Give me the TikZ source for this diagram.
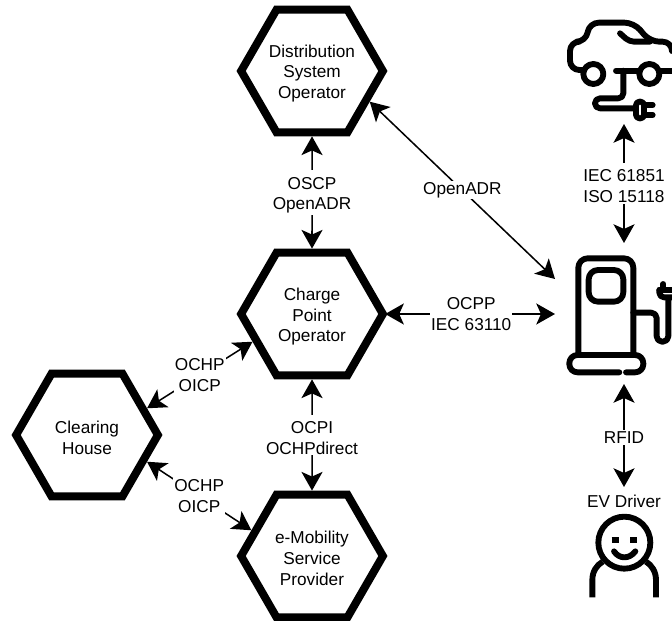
\documentclass[tikz,border=0pt]{standalone}
\usepackage{fontspec}
\setmainfont{Liberation Sans}
\usetikzlibrary{arrows.meta,shapes.geometric}

\newcommand{\topgap}{\rule{0pt}{15pt}}

\tikzset{
    actor/.style={regular polygon,regular polygon sides=6,draw,line width=6.8pt,
        minimum size=121pt,inner sep=0pt,align=center,font=\fontsize{14.7}{17.7}\selectfont},
    link/.style={{Stealth[length=16pt,width=18pt,inset=4pt]}-{Stealth[length=16pt,width=18pt,inset=4pt]},line width=1.3pt},
    proto/.style={fill=white,inner sep=1pt,align=center,font=\fontsize{14.7}{17.7}\selectfont},
    icon/.style={line width=5pt,line cap=round,line join=round}
}

\begin{document}
\begin{tikzpicture}[x=0.03cm,y=-0.03cm]
    \useasboundingbox (0,0) rectangle (672,621);

    % The hexagons
    \node[actor] (dso) at (312,71) {\topgap Distribution\\System\\Operator};
    \node[actor] (cpo) at (312,314) {\topgap Charge\\Point\\Operator};
    \node[actor] (ch) at (87,435) {\topgap Clearing\\House};
    \node[actor] (emsp) at (312,556) {\topgap e-Mobility\\Service\\Provider};

    % Free ends of the connectors at the icons
    \coordinate (carS) at (624,124);
    \coordinate (pumpN) at (624,243);
    \coordinate (pumpW) at (555,314);
    \coordinate (pumpNW) at (555,279);
    \coordinate (pumpS) at (624,384);
    \coordinate (driverN) at (624,487);

    % The connectors
    \draw[link] (dso) -- node[proto] {\topgap OSCP\\OpenADR} (cpo);
    \draw[link] (cpo) -- node[proto] {\topgap OCPI\\OCHPdirect} (emsp);
    \draw[link] (cpo.205) -- node[proto] {OCHP\\OICP} (ch.24);
    \draw[link] (ch.-24) -- node[proto] {OCHP\\OICP} (emsp.157);
    \draw[link,shorten <=-2pt] (cpo) -- node[proto] {OCPP\\IEC 63110} (pumpW);
    \draw[link] (dso.-28) -- node[proto] {OpenADR} (pumpNW);
    \draw[link] (carS) -- node[proto] {\topgap IEC 61851\\ISO 15118} (pumpN);
    \draw[link] (pumpS) -- node[proto,pos=.52] {RFID} (driverN);

    \node[font=\fontsize{14.7}{17.7}\selectfont] (driver) at (624,501) {EV Driver};

    % The car
    \begin{scope}[shift={(540,0)},scale=1/3,icon]
        \draw[rounded corners=8pt] (132,210) -- (90,210) -- (90,125) -- (138,125) -- (148,68) -- (282,68) -- (330,125) -- (396,125) -- (396,140);
        \draw[rounded corners=4pt] (240,100) -- (268,125) -- (330,125);
        \draw (160,222) circle (30);
        \draw (328,222) circle (30);
        \draw (228,212) -- (298,212);
        \draw (358,212) -- (400,212);
        \draw[rounded corners=4.2pt] (250,212) -- (250,295) -- (165,295) -- (165,325) -- (285,325);
        \draw[rounded corners=3pt] (288,305) rectangle (312,355);
        \draw (312,315) -- (338,315);
        \draw (312,345) -- (338,345);
    \end{scope}

    % The pump
    \begin{scope}[shift={(540,240)},scale=1/3,icon]
        \draw[rounded corners=8pt] (115,345) -- (115,55) -- (280,55) -- (280,345);
        \draw[rounded corners=8pt] (146,90) rectangle (250,185);
        \draw[rounded corners=7pt] (238,397) -- (88,397) -- (88,345) -- (310,345) -- (310,397) -- (258,397);
        \draw[rounded corners=4.5pt] (280,218) -- (350,218) -- (350,305) -- (385,305) -- (385,175);
        \draw[rounded corners=4pt] (358,150) -- (358,172) -- (400,172);
        \draw (358,150) -- (400,150);
        \draw (370,132) -- (370,150);
    \end{scope}

    % The driver
    \begin{scope}[shift={(560,480)},scale=1/3,icon]
        \draw (193,188) circle (78);
        \draw[line cap=butt] (155,180) -- (178,180);
        \draw[line cap=butt] (210,180) -- (232,180);
        \draw (162,214) .. controls (178,238) and (208,238) .. (226,214);
        \draw[line cap=butt] (97,352) -- (97,300) .. controls (97,275) and (110,255) .. (128,245);
        \draw[line cap=butt] (288,352) -- (288,300) .. controls (288,275) and (275,255) .. (258,245);
    \end{scope}
\end{tikzpicture}
\end{document}
